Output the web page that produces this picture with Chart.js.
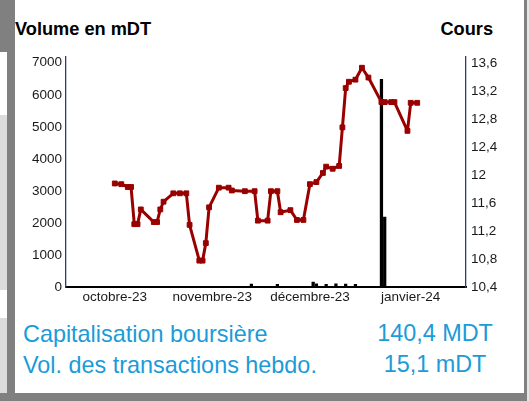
<!DOCTYPE html>
<html><head><meta charset="utf-8">
<script src="https://cdn.jsdelivr.net/npm/chart.js@4.4.0/dist/chart.umd.min.js"></script>
<style>
html,body{margin:0;padding:0;background:#fff;}
body{width:529px;height:401px;position:relative;overflow:hidden;font-family:"Liberation Sans",Arial,sans-serif;}
.blk{position:absolute;}
.t{position:absolute;white-space:nowrap;line-height:1;color:#000;}
.b{color:#1b9bd8;font-size:23.4px;}
</style></head><body>
<div class="blk" style="left:0;top:0;width:15px;height:52px;background:#808080"></div>
<div class="blk" style="left:7px;top:0;width:8px;height:401px;background:#808080"></div>
<div class="blk" style="left:0;top:115px;width:7px;height:175px;background:#dcdcdc"></div>
<div class="blk" style="left:0;top:318px;width:7px;height:76px;background:#dcdcdc"></div>
<div class="blk" style="left:0;top:393px;width:529px;height:8px;background:#808080"></div>
<div class="blk" style="left:524px;top:0;width:3px;height:401px;background:#808080"></div>
<div class="blk" style="left:527px;top:0;width:2px;height:401px;background:#e6e6e6"></div>
<canvas id="c" width="529" height="280" style="position:absolute;left:0;top:40px;"></canvas>
<div class="t" style="left:15px;top:20px;font-size:18.2px;font-weight:bold;">Volume en mDT</div>
<div class="t" style="right:36px;top:20px;font-size:18.2px;font-weight:bold;">Cours</div>
<div class="t b" style="left:23px;top:323px;">Capitalisation boursière</div>
<div class="t b" style="left:23px;top:354px;">Vol. des transactions hebdo.</div>
<div class="t b" style="left:335px;width:200px;text-align:center;top:321.5px;">140,4 MDT</div>
<div class="t b" style="left:335px;width:200px;text-align:center;top:352.5px;">15,1 mDT</div>
<script>
// ---- data ----
const axisStart = '2023-10-01';
const axisEnd = '2024-02-01';
const monthTickDates = ['2023-10-16', '2023-11-15', '2023-12-15', '2024-01-15'];
const monthLabels = ['octobre-23', 'novembre-23', 'décembre-23', 'janvier-24'];
const volumeTicks = [0, 1000, 2000, 3000, 4000, 5000, 6000, 7000];
const volumeTickLabels = ['0', '1000', '2000', '3000', '4000', '5000', '6000', '7000'];
const coursTicks = [10.4, 10.8, 11.2, 11.6, 12, 12.4, 12.8, 13.2, 13.6];
const coursTickLabels = ['10,4', '10,8', '11,2', '11,6', '12', '12,4', '12,8', '13,2', '13,6'];
const coursDates = ['2023-10-16','2023-10-18','2023-10-20','2023-10-21','2023-10-22','2023-10-23','2023-10-24','2023-10-28','2023-10-29','2023-10-30','2023-10-31',
  '2023-11-03','2023-11-05','2023-11-07','2023-11-08','2023-11-11','2023-11-12','2023-11-13','2023-11-14','2023-11-17','2023-11-20','2023-11-21','2023-11-25','2023-11-28','2023-11-29',
  '2023-12-02','2023-12-03','2023-12-05','2023-12-06','2023-12-09','2023-12-11','2023-12-13','2023-12-15','2023-12-17','2023-12-19','2023-12-20','2023-12-22','2023-12-24','2023-12-25','2023-12-26','2023-12-27','2023-12-29','2023-12-31',
  '2024-01-02','2024-01-06','2024-01-07','2024-01-09','2024-01-10','2024-01-14','2024-01-15','2024-01-17'];
const coursValues = [11.88,11.87,11.83,11.83,11.30,11.30,11.51,11.33,11.33,11.51,11.62,
  11.74,11.74,11.74,11.29,10.78,10.78,11.03,11.54,11.82,11.82,11.78,11.77,11.77,11.35,
  11.35,11.77,11.77,11.47,11.50,11.36,11.36,11.87,11.90,12.03,12.12,12.09,12.13,12.68,13.24,13.33,13.36,13.53,
  13.39,13.04,13.04,13.04,13.04,12.63,13.03,13.03];
const volumeDates = ['2023-11-27','2023-12-05','2023-12-16','2023-12-17','2023-12-20','2023-12-23','2023-12-26','2023-12-29','2024-01-06','2024-01-07'];
const volumeValues = [100, 90, 160, 110, 90, 110, 100, 90, 6480, 2190];

// ---- helpers ----
const X0 = Date.UTC(2023, 9, 1);
function dayOf(s) { const p = s.split('-').map(Number); return (Date.UTC(p[0], p[1] - 1, p[2]) - X0) / 86400000; }

Chart.defaults.font.family = '"Liberation Sans", Arial, sans-serif';
Chart.defaults.font.size = 13.5;
Chart.defaults.color = '#1a1a1a';

new Chart(document.getElementById('c'), {
  type: 'bar',
  data: {
    datasets: [
      {
        type: 'line', label: 'Cours',
        data: coursDates.map((d, i) => ({ x: dayOf(d), y: coursValues[i] })),
        xAxisID: 'x', yAxisID: 'yR',
        borderColor: '#990000', backgroundColor: '#990000', borderWidth: 3,
        borderJoinStyle: 'round', tension: 0, fill: false,
        pointStyle: 'rect', pointRadius: 3.4, pointBorderWidth: 1,
        pointBackgroundColor: '#990000', pointBorderColor: '#990000',
        order: 0
      },
      {
        type: 'bar', label: 'Volume',
        data: volumeDates.map((d, i) => ({ x: dayOf(d), y: volumeValues[i] })),
        xAxisID: 'x', yAxisID: 'yL',
        backgroundColor: '#000', barThickness: 2.6,
        order: 1
      }
    ]
  },
  options: {
    responsive: false, animation: false, devicePixelRatio: 1,
    layout: { padding: { top: 17, left: 0, right: 0, bottom: 0 } },
    plugins: { legend: { display: false }, tooltip: { enabled: false } },
    scales: {
      x: {
        type: 'linear', position: 'bottom', offset: false,
        min: dayOf(axisStart), max: dayOf(axisEnd),
        grid: { display: false, drawTicks: false, offset: false },
        border: { display: true, color: '#000', width: 2 },
        ticks: { padding: 2, autoSkip: false, maxRotation: 0, callback: (v, i) => monthLabels[i] },
        afterBuildTicks: s => { s.ticks = monthTickDates.map(d => ({ value: dayOf(d) })); },
        afterFit: s => { s.height = 32.7; s.paddingLeft = 0; s.paddingRight = 0; }
      },
      yL: {
        type: 'linear', position: 'left', min: 0, max: 7180,
        grid: { display: false, drawTicks: false },
        border: { display: true, color: '#2e3a86', width: 1.3 },
        ticks: { padding: 4, callback: (v, i) => volumeTickLabels[i] },
        afterBuildTicks: s => { s.ticks = volumeTicks.map(v => ({ value: v })); },
        afterFit: s => { s.width = 66; s.paddingTop = 0; s.paddingBottom = 0; }
      },
      yR: {
        type: 'linear', position: 'right', min: 10.4, max: 13.683,
        grid: { display: false, drawTicks: false },
        border: { display: true, color: '#2e3a86', width: 1.3 },
        ticks: { padding: 5, callback: (v, i) => coursTickLabels[i] },
        afterBuildTicks: s => { s.ticks = coursTicks.map(v => ({ value: v })); },
        afterFit: s => { s.width = 63; s.paddingTop = 0; s.paddingBottom = 0; }
      }
    }
  }
});
</script>
</body></html>
